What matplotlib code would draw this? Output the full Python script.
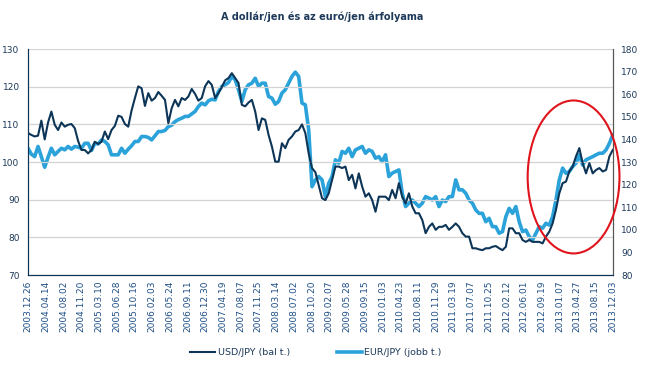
import matplotlib.pyplot as plt
import matplotlib.dates as mdates
from matplotlib.patches import Ellipse
import pandas as pd

# USD/JPY (left axis), ~3 week steps
usd_jpy = [107.7, 107.2, 106.8, 107.0, 111.0, 106.0, 110.5, 113.4, 109.9, 108.5,
           110.5, 109.4, 109.9, 110.1, 109.0, 105.6, 103.2, 103.2, 102.3, 103.2,
           105.4, 104.8, 105.4, 108.1, 106.1, 108.5, 109.6, 112.3, 112.0, 110.1,
           109.4, 113.7, 117.0, 120.1, 119.6, 114.9, 118.3, 116.3, 117.0, 118.6,
           117.6, 116.5, 110.3, 114.3, 116.5, 114.8, 117.0, 116.5, 117.4, 119.4,
           118.1, 116.3, 117.0, 120.1, 121.5, 120.5, 117.0, 118.3, 119.9, 121.7,
           122.3, 123.6, 122.3, 121.0, 115.2, 114.8, 115.8, 116.5, 113.4, 108.5,
           111.6, 111.2, 107.2, 104.1, 100.1, 100.1, 105.0, 103.7, 105.9, 106.8,
           108.1, 108.5, 110.0, 107.7, 102.3, 98.4, 97.3, 93.9,
           90.4, 89.9, 91.7, 95.2, 98.8, 98.8, 98.4, 98.8, 95.2, 96.6,
           93.0, 97.0, 93.5, 90.8, 91.7, 89.9, 86.8, 90.8, 90.8, 90.8,
           89.9, 92.6, 90.4, 94.4, 90.8, 89.0, 91.7, 88.2, 86.4, 86.4,
           84.6, 81.1, 82.8, 83.7, 82.0, 82.8, 82.8, 83.3, 82.0, 82.8,
           83.7, 82.8, 81.1, 80.2, 80.2, 77.1, 77.1, 76.8, 76.6, 77.1,
           77.1, 77.5, 77.7, 77.1, 76.6, 77.5, 82.4, 82.4, 81.1, 81.1,
           79.3, 78.8, 79.3, 78.8, 78.8, 78.8, 78.4, 80.2, 81.5, 83.7,
           87.3, 91.7, 94.4, 94.8, 97.5, 98.8, 101.5, 103.7, 99.7, 97.0,
           99.7, 97.0, 97.9, 98.4, 97.5, 97.9, 101.5, 103.2]

# EUR/JPY (right axis)
eur_jpy = [136.1, 133.5, 132.4, 136.9, 132.4, 127.7, 132.1, 136.1, 133.2, 134.7,
           136.1, 135.4, 136.9, 135.7, 136.9, 136.6, 136.1, 138.3, 138.3, 135.1,
           138.3, 138.0, 139.8, 139.1, 137.6, 133.2, 133.2, 133.2, 136.1, 133.9,
           135.7, 137.2, 139.1, 139.1, 141.3, 141.3, 140.9, 139.8, 141.6, 143.5,
           143.5, 144.0, 145.7, 146.3, 147.9, 148.8, 149.4, 150.2, 150.2, 151.3,
           152.4, 154.6, 156.1, 155.3, 157.1, 157.8, 157.5, 161.2, 163.5, 164.2,
           165.2, 167.9, 166.4, 162.0, 156.8, 162.0, 164.2, 164.9, 167.1, 163.5,
           164.9, 164.9, 159.0, 158.3, 155.6, 156.8, 160.5, 162.0, 164.9, 167.9,
           169.8, 167.9, 156.1, 155.3, 144.3, 119.1, 122.0, 123.6,
           122.1, 114.7, 120.6, 123.6, 131.0, 129.5, 134.7, 133.9, 136.1, 132.4,
           135.4, 136.1, 136.9, 133.9, 135.4, 134.7, 131.7, 132.4, 130.2, 133.2,
           123.6, 125.1, 125.8, 126.5, 116.2, 110.3, 111.8, 113.2, 111.8, 110.3,
           111.8, 114.7, 114.0, 113.2, 114.7, 110.3, 113.2, 112.5, 114.7, 114.7,
           122.1, 117.7, 117.7, 116.2, 113.2, 111.8, 108.8, 107.3, 107.3, 103.6,
           105.1, 101.4, 101.4, 98.5, 99.2, 105.8, 109.5, 107.3, 110.3, 103.6,
           99.2, 99.9, 97.0, 95.5, 98.5, 101.4, 100.7, 102.9, 102.1, 105.8,
           113.2, 122.1, 127.3, 125.0, 125.8, 128.0, 129.5, 133.2, 128.7, 131.0,
           131.7, 132.4, 133.2, 133.9, 133.9, 135.4, 138.3, 142.0]

tick_dates = ["2003.12.26", "2004.04.14", "2004.08.02", "2004.11.20", "2005.03.10",
              "2005.06.28", "2005.10.16", "2006.02.03", "2006.05.24", "2006.09.11",
              "2006.12.30", "2007.04.19", "2007.08.07", "2007.11.25", "2008.03.14",
              "2008.07.02", "2008.10.20", "2009.02.07", "2009.05.28", "2009.09.15",
              "2010.01.03", "2010.04.23", "2010.08.11", "2010.11.29", "2011.03.19",
              "2011.07.07", "2011.10.25", "2012.02.12", "2012.06.01", "2012.09.19",
              "2013.01.07", "2013.04.27", "2013.08.15", "2013.12.03"]

dates = pd.date_range("2003-12-26", "2013-12-03", periods=len(usd_jpy))
ticks = pd.to_datetime(tick_dates, format="%Y.%m.%d")

navy = "#0d3557"
light = "#2ba3da"
text_c = "#1d3a5a"

fig = plt.figure(figsize=(6.45, 3.69), dpi=100)
ax = fig.add_axes([0.0434, 0.2547, 0.9066, 0.6123])
ax2 = ax.twinx()

ax.plot(dates, usd_jpy, c=navy, lw=1.5, zorder=3)
ax2.plot(dates, eur_jpy, c=light, lw=2.6, zorder=2)
ax.set_zorder(ax2.get_zorder() + 1)
ax.patch.set_visible(False)

ax.set_ylim(70, 130)
ax2.set_ylim(80, 180)
ax.set_yticks(range(70, 131, 10))
ax2.set_yticks(range(80, 181, 10))
ax.set_xlim(dates[0], dates[-1])
ax.set_xticks(ticks)
ax.xaxis.set_major_formatter(mdates.DateFormatter("%Y.%m.%d"))
ax.tick_params(axis="x", rotation=90, labelsize=6.5, colors="#1f4f86", length=0, pad=4)
ax.tick_params(axis="y", labelsize=6.5, colors=text_c, length=0, pad=6)
ax2.tick_params(axis="y", labelsize=6.5, colors=text_c, length=0, pad=6)

ax.grid(axis="y", color="#d3d3d3", lw=0.9)
ax.set_axisbelow(True)
for a in (ax, ax2):
    a.spines["top"].set_visible(False)
    a.spines["left"].set_color(navy)
    a.spines["bottom"].set_color(navy)
    a.spines["right"].set_color("#555555")
    a.spines["right"].set_linewidth(0.8)

ell = Ellipse((0.933, 0.434), 0.157, 0.677, transform=ax.transAxes,
              fill=False, ec="#e0141c", lw=1.5, clip_on=False, zorder=10)
ax.add_patch(ell)

fig.suptitle("A dollár/jen és az euró/jen árfolyama", y=0.97, fontsize=7,
             fontweight="bold", color=text_c)

h1, = ax.plot([], [], c=navy, lw=1.5, label="USD/JPY (bal t.)")
h2, = ax.plot([], [], c=light, lw=2.6, label="EUR/JPY (jobb t.)")
fig.legend(handles=[h1, h2], loc="center", bbox_to_anchor=(0.49, 0.045), ncol=2,
           frameon=False, fontsize=6.8, handlelength=2.6, handletextpad=0.3,
           columnspacing=5, labelcolor=text_c)

fig.savefig("out.png", dpi=100)
